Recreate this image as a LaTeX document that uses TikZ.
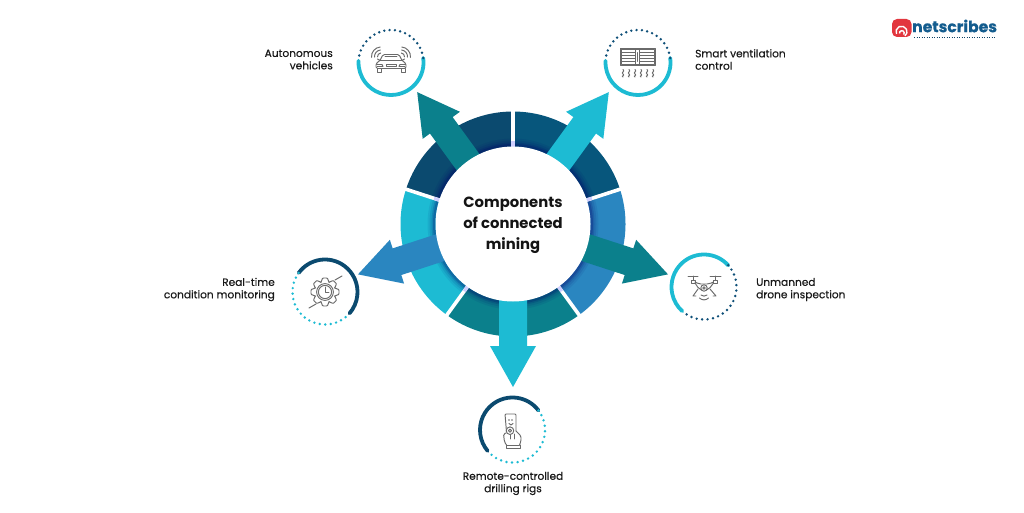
\documentclass[tikz,border=0pt]{standalone}
\usepackage{fontspec}
\setmainfont{Poppins}
\newfontfamily\medfont[FakeBold=0.3]{Poppins}
\newfontfamily\logofont[FakeBold=0.6]{Poppins Bold}
\usetikzlibrary{calc}
\definecolor{navy}{HTML}{0B4A6F}
\definecolor{petrol}{HTML}{035F86}
\definecolor{azure}{HTML}{2A86C0}
\definecolor{teal}{HTML}{0B808C}
\definecolor{cyanb}{HTML}{1DBBD3}
\definecolor{dots}{HTML}{0E4F78}
\definecolor{icon}{HTML}{6A6A6A}
\definecolor{logored}{HTML}{E2363E}
\definecolor{logoblue}{HTML}{135C8E}
\tikzset{
  x=1pt,y=1pt,
  lab/.style={font=\medfont\fontsize{10.6}{12.4}\selectfont,text=black!90,inner sep=0pt},
  title/.style={font=\fontsize{14.8}{21}\selectfont\bfseries,align=center,text=black!92,inner sep=0pt},
  ico/.style={draw=icon,line width=0.95pt,line join=round,line cap=round,fill=none},
  solidarc/.style={line width=3.8pt,line cap=round},
}
\newcommand{\ringseg}[3]{\fill[#3] (#1:112.5) arc[start angle=#1,end angle=#2,radius=112.5] -- (#2:74) arc[start angle=#2,end angle=#1,radius=74] -- cycle;}
\newcommand{\blockarrow}[2]{\fill[#2,rotate=#1] (70,-14) -- (122,-14) -- (122,-23) -- (163,0) -- (122,23) -- (122,14) -- (70,14) -- cycle;}
\newcommand{\badge}[7]{%
  \coordinate (#1) at (#2,#3);
  \draw[#6,solidarc] (#1) ++(#4:32.5) arc[start angle=#4,end angle=#5,radius=32.5];
  \pgfmathsetmacro{\dsteps}{round((360-abs(#5-#4))/9.6)}
  \pgfmathsetmacro{\dinc}{(360-abs(#5-#4))/\dsteps}
  \foreach \k in {1,...,\dsteps}{
    \pgfmathsetmacro{\ang}{#5+(#5>#4?1:-1)*\k*\dinc}
    \fill[#7] (#1) ++(\ang:32.5) circle[radius=1.35];
  }%
}
\begin{document}
\begin{tikzpicture}
\useasboundingbox (0,0) rectangle (1024,512);
\fill[white] (0,0) rectangle (1024,512);

\begin{scope}[shift={(513,288)}]
  \ringseg{90}{18}{petrol!55!navy}
  \ringseg{18}{-54}{azure}
  \ringseg{-54}{-126}{teal}
  \ringseg{-126}{-198}{cyanb}
  \ringseg{162}{90}{navy}
  \foreach \w/\o in {8/0.07,6/0.09,4/0.14,2.5/0.2}{
    \draw[blue!40!black,opacity=\o,line width=\w pt] (0,0) circle[radius=77.5+\w/2];
  }
  \foreach \a in {90,18,-54,-126,162}{
    \draw[white,line width=3.6pt] (\a:74) -- (\a:115);
    \draw[blue!25!white,line width=3.2pt,opacity=.75] (\a:76) -- (\a:83);
  }
  \blockarrow{126}{teal}
  \blockarrow{54}{cyanb}
  \blockarrow{-18}{teal}
  \blockarrow{-90}{cyanb}
  \blockarrow{198}{azure}
  \node[circle,fill=white,minimum size=155pt,inner sep=0pt] (hub) at (0,0) {};
  \node[title] (hubtext) at (0,-1.5) {Components\\of connected\\mining};
\end{scope}

\badge{car}{391}{449.5}{8}{-183}{cyanb}{dots}
\badge{vent}{638}{449.5}{8}{-183}{cyanb}{dots}
\badge{drone}{704}{225}{42}{228}{cyanb}{dots}
\badge{gear}{325}{220}{144}{-41}{navy}{cyanb}
\badge{remote}{512.5}{82}{37}{220}{navy}{cyanb}

\node[lab,align=right,anchor=east] (l1) at (333,452.5) {Autonomous\\vehicles};
\node[lab,align=left,anchor=west] (l2) at (695,452.5) {Smart ventilation\\control};
\node[lab,align=left,anchor=west] (l3) at (756,222.5) {Unmanned\\drone inspection};
\node[lab,align=right,anchor=east] (l4) at (275,222.5) {Real-time\\condition monitoring};
\node[lab,align=center] (l5) at (513,28.5) {Remote-controlled\\drilling rigs};

% car icon
\begin{scope}[shift={(car)}]
  \draw[ico,rounded corners=1.5] (-15,-6) -- (-15,-1) -- (-11,2) -- (-8,8) -- (8,8) -- (11,2) -- (15,-1) -- (15,-6) -- cycle;
  \draw[ico] (-11,2) -- (11,2);
  \draw[ico] (-6,6) -- (6,6);
  \draw[ico] (-14.5,-2) -- (-9,-2) -- (-8,-4) -- (-14,-4);
  \draw[ico] (14.5,-2) -- (9,-2) -- (8,-4) -- (14,-4);
  \draw[ico] (-5,-2) rectangle (5,-4);
  \draw[ico] (-14,-6) -- (-14,-10) -- (-10,-10) -- (-10,-6);
  \draw[ico] (14,-6) -- (14,-10) -- (10,-10) -- (10,-6);
  \draw[ico] (-11,2) -- (-13.5,3.5);
  \draw[ico] (11,2) -- (13.5,3.5);
  \foreach \r in {3.5,6.5,9.5}{
    \draw[ico] (-10,6) ++(95:\r) arc[start angle=95,end angle=185,radius=\r];
    \draw[ico] (10,6) ++(85:\r) arc[start angle=85,end angle=-5,radius=\r];
  }
\end{scope}

% ventilation icon
\begin{scope}[shift={(vent)}]
  \draw[ico] (-18,-3) rectangle (17.5,14.5);
  \draw[ico] (-16.5,-1.5) rectangle (16,13);
  \foreach \y in {1.5,4.5,7.5,10.5}{
    \draw[ico] (-16.5,\y) -- (-3,\y);
    \draw[ico] (2,\y) -- (16,\y);
  }
  \draw[ico] (-2.5,-1.5) rectangle (1.5,13);
  \draw[ico] (-0.5,1) -- (-0.5,10);
  \foreach \x in {-15,-9,-3,3,9,15}{
    \draw[ico] (\x,-7) .. controls (\x+2.5,-9) and (\x-2.5,-10) .. (\x,-11.5) .. controls (\x+2.5,-13) and (\x-2.5,-13.5) .. (\x,-14.5);
  }
\end{scope}

% drone icon
\begin{scope}[shift={(drone)}]
  \draw[ico] (-16,11) -- (-6,11);
  \draw[ico] (6,11) -- (17,11);
  \draw[ico] (-11,11) -- (-11,7);
  \draw[ico] (11.5,11) -- (11.5,7);
  \draw[ico] (-13,7) rectangle (-9,4);
  \draw[ico] (9.5,7) rectangle (13.5,4);
  \draw[ico,rounded corners=2] (-9,5) -- (-5,3) -- (5,3) -- (9.5,5);
  \draw[ico,rounded corners=2] (-9,4) -- (-5,-2) -- (-2,-3);
  \draw[ico,rounded corners=2] (9.5,4) -- (5,-2) -- (2,-3);
  \draw[ico] (0,-1) circle[radius=3.2];
  \draw[ico] (0,-1) circle[radius=1.2];
  \draw[ico] (-6,-2) -- (-11,-9) -- (-8,-9);
  \draw[ico] (6,-2) -- (12,-9) -- (9,-9);
  \draw[ico] (-3,-8) .. controls (-1,-9.5) and (1,-9.5) .. (3,-8);
  \draw[ico] (-4.5,-11) .. controls (-2,-13.5) and (2,-13.5) .. (4.5,-11);
\end{scope}

% gear and clock icon
\begin{scope}[shift={(gear)}]
  \draw[ico] (0,0) circle[radius=8.4];
  \draw[ico] (0,0) circle[radius=6.6];
  \draw[ico] (0,4.8) -- (0,0) -- (3.8,0);
  \foreach \a in {0,45,...,315}{
    \draw[ico,rotate=\a,rounded corners=0.8] (10,-3.9) -- (14,-2.4) -- (14,2.4) -- (10,3.9);
  }
  \foreach \a in {22.5,67.5,...,337.5}{
    \draw[ico] (\a-2.5:10.7) arc[start angle=\a-2.5,end angle=\a+2.5,radius=10.7];
  }
  \draw[ico] (10,12) -- (17,16);
  \draw[ico] (-9,-12) -- (-16,-16);
\end{scope}

% remote control icon
\begin{scope}[shift={(remote)}]
  \draw[ico,rounded corners=1] (-6,-2) -- (-7.5,16) -- (3.5,16) -- (3.5,-1);
  \fill[icon] (-3.5,10) circle[radius=0.8];
  \fill[icon] (-0.5,10) circle[radius=0.8];
  \draw[ico] (-3.5,6.5) -- (-1.5,5) -- (0.5,6.5);
  \draw[ico,fill=white] (-2.5,-0.7) circle[radius=3.8];
  \draw[ico] (-2.5,-0.7) circle[radius=1.6];
  \draw[ico,rounded corners=1.5] (-6.5,-3) -- (-9,-4) -- (-8,-12) -- (-6,-15);
  \draw[ico,rounded corners=1.5] (3.5,-1) -- (8.5,-6) -- (8.5,-11) -- (7,-15);
  \draw[ico] (-6,-15) -- (7,-15);
  \draw[ico] (-6.5,-15) -- (-6.5,-18) -- (7.5,-18) -- (7.5,-15);
  \draw[ico] (-2,-5) -- (-2,-9);
  \draw[ico] (2,-4) -- (2,-9);
\end{scope}

% logo
\fill[logored,rounded corners=5] (892,475) rectangle (911.5,493);
\draw[white,line width=1.4pt] (896.5,478) arc[start angle=205,end angle=-50,radius=5.5];
\draw[white,line width=1.4pt] (899.5,478.5) arc[start angle=190,end angle=-40,radius=2.4];
\node[inner sep=0pt,anchor=west,text=logoblue,font=\logofont\fontsize{15.6}{16}\selectfont] (logotext) at (912,486) {netscribes};
\draw[logoblue!70!black,line width=1.2pt,dash pattern=on 1.3pt off 1.2pt] (914,474.5) -- (995,474.5);
\end{tikzpicture}
\end{document}
